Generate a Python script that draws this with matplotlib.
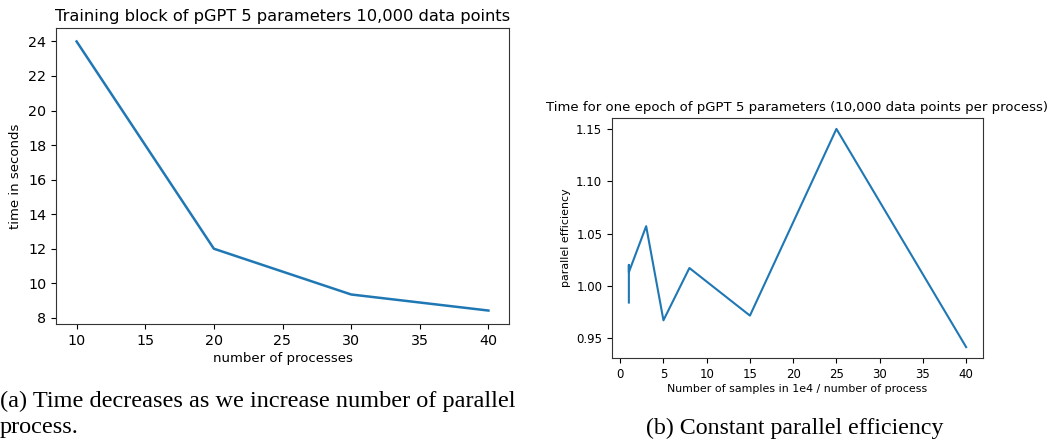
import matplotlib
matplotlib.use("Agg")
import matplotlib.pyplot as plt

# Left chart data
procs = [10, 20, 30, 40]
time_sec = [24.0, 12.0, 9.35, 8.42]

# Right chart data
samples = [1, 1, 1, 3, 5, 8, 15, 25, 40]
efficiency = [0.984, 1.020, 1.013, 1.057, 0.967, 1.017, 0.9715, 1.150, 0.9414]

W, H = 1050, 443
fig = plt.figure(figsize=(W / 100, H / 100), dpi=100)

def px_axes(l, t, r, b):
    return fig.add_axes([l / W, 1 - b / H, (r - l) / W, (b - t) / H])

line_color = "#1f77b4"

ax1 = px_axes(56, 28, 509, 324)
ax1.plot(procs, time_sec, color=line_color, lw=1.8)
ax1.set_title("Training block of pGPT 5 parameters 10,000 data points", fontsize=11.7, pad=5)
ax1.set_xlabel("number of processes", fontsize=9.5, labelpad=3)
ax1.set_ylabel("time in seconds", fontsize=9.5, labelpad=4)
ax1.set_yticks([8, 10, 12, 14, 16, 18, 20, 22, 24])
ax1.tick_params(labelsize=10.3)

ax2 = px_axes(612, 118, 983, 358)
ax2.plot(samples, efficiency, color=line_color, lw=1.5)
ax2.set_title("Time for one epoch of pGPT 5 parameters (10,000 data points per process)", fontsize=9.5, pad=5)
ax2.set_xlabel("Number of samples in 1e4 / number of process", fontsize=7.9, labelpad=2)
ax2.set_ylabel("parallel efficiency", fontsize=7.9, labelpad=4)
ax2.set_xticks([0, 5, 10, 15, 20, 25, 30, 35, 40])
ax2.set_yticks([0.95, 1.00, 1.05, 1.10, 1.15])
ax2.tick_params(labelsize=8.5)

for ax in (ax1, ax2):
    for s in ax.spines.values():
        s.set_color("#333333")

serif = ["Liberation Serif", "DejaVu Serif"]
fig.text(0 / W, 1 - 401 / H, "(a) Time decreases as we increase number of parallel",
         family=serif, fontsize=17.5, ha="left", va="center")
fig.text(0 / W, 1 - 428 / H, "process.", family=serif, fontsize=17.5, ha="left", va="center")
fig.text(795 / W, 1 - 428 / H, "(b) Constant parallel efficiency",
         family=serif, fontsize=17.2, ha="center", va="center")

fig.savefig("out.png", dpi=100)
